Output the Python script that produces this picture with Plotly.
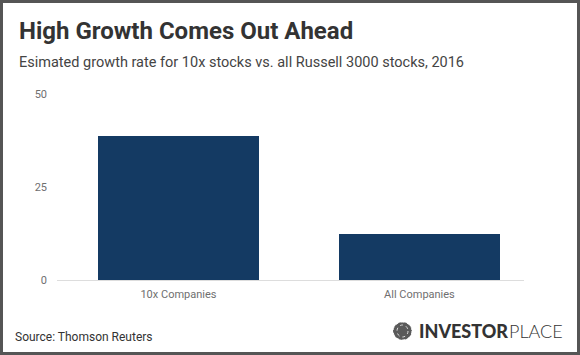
import plotly.graph_objects as go

categories = ["10x Companies", "All Companies"]
growth_rate = [38.8, 12.4]
y_ticks = [0, 25, 50]

W, H = 580, 355
L, R, T, B = 57, 56, 94, 75
PW, PH = W - L - R, H - T - B


def px(x):
    return (x - L) / PW


def py(y):
    return (H - B - y) / PH


fig = go.Figure()
fig.add_trace(go.Bar(
    x=categories,
    y=growth_rate,
    marker=dict(color="#143a63", line=dict(width=0)),
    width=0.668,
    hoverinfo="x+y",
))

fig.update_layout(
    width=W,
    height=H,
    margin=dict(l=L, r=R, t=T, b=B),
    paper_bgcolor="white",
    plot_bgcolor="white",
    font=dict(family="Roboto", color="#555555"),
    showlegend=False,
    bargap=0,
    xaxis=dict(
        range=[-0.504, 1.434],
        showgrid=False,
        zeroline=False,
        showline=True,
        linecolor="#dddddd",
        linewidth=1,
        ticks="",
        ticklabelstandoff=4,
        tickfont=dict(size=11, color="#6f6f6f"),
        fixedrange=True,
    ),
    yaxis=dict(
        range=[0, 50],
        tickvals=y_ticks,
        showgrid=False,
        zeroline=False,
        showline=False,
        ticks="",
        ticklabelstandoff=9,
        tickfont=dict(size=11, color="#6f6f6f"),
        fixedrange=True,
    ),
)

annotations = [
    dict(text="<b>High Growth Comes Out Ahead</b>", x=px(17), y=py(31), xanchor="left", yanchor="middle",
         font=dict(size=24, color="#333333", family="Roboto")),
    dict(text="Esimated growth rate for 10x stocks vs. all Russell 3000 stocks, 2016", x=px(17), y=py(63),
         xanchor="left", yanchor="middle", font=dict(size=14.5, color="#444444", family="Roboto")),
    dict(text="Source: Thomson Reuters", x=px(13), y=py(337), xanchor="left", yanchor="middle",
         font=dict(size=12, color="#333333", family="Roboto")),
    dict(text="INVESTOR", x=px(417), y=py(331), xanchor="left", yanchor="middle",
         font=dict(size=18, color="#333333", family="Lato", weight=900)),
    dict(text="PLACE", x=px(507), y=py(331), xanchor="left", yanchor="middle",
         font=dict(size=18, color="#333333", family="Lato", weight=300)),
]
for a in annotations:
    a.update(xref="paper", yref="paper", showarrow=False)
fig.update_layout(annotations=annotations)

shapes = [
    # outer frame
    dict(type="rect", x0=px(1.5), x1=px(W - 1.5), y0=py(1.5), y1=py(H - 1.5),
         line=dict(color="#555555", width=3), fillcolor="rgba(0,0,0,0)", layer="above"),
    # globe icon
    dict(type="circle", x0=px(393), x1=px(412), y0=py(322), y1=py(340),
         line=dict(color="#ffffff", width=1, dash="dot"), fillcolor="#5a5a5a"),
    dict(type="circle", x0=px(397), x1=px(408), y0=py(325), y1=py(337),
         line=dict(color="#dddddd", width=1, dash="dot"), fillcolor="rgba(0,0,0,0)"),
]
for s in shapes:
    s.update(xref="paper", yref="paper")
fig.update_layout(shapes=shapes)

fig.write_html("out.html", config={"displayModeBar": False},
               post_script="document.body.style.margin='0px';")
